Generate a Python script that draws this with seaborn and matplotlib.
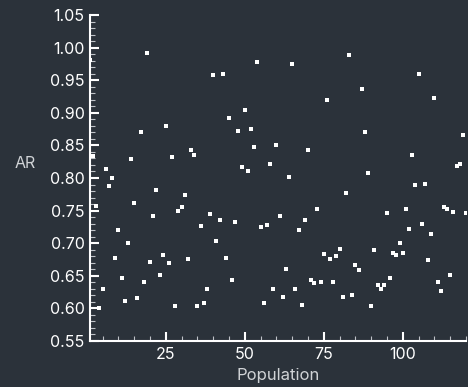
import matplotlib
matplotlib.use("Agg")
import matplotlib.pyplot as plt
import seaborn as sns
import pandas as pd
from matplotlib.ticker import MultipleLocator

population = list(range(1, 121))
ar = [
    0.981, 0.833, 0.757, 0.600, 0.629, 0.814, 0.787, 0.800, 0.678, 0.720,
    0.646, 0.612, 0.700, 0.829, 0.762, 0.616, 0.871, 0.640, 0.992, 0.671,
    0.742, 0.781, 0.651, 0.682, 0.879, 0.669, 0.832, 0.603, 0.749, 0.755,
    0.774, 0.676, 0.843, 0.835, 0.603, 0.726, 0.609, 0.630, 0.745, 0.958,
    0.703, 0.736, 0.959, 0.677, 0.892, 0.644, 0.733, 0.872, 0.817, 0.905,
    0.810, 0.875, 0.847, 0.978, 0.725, 0.609, 0.728, 0.821, 0.630, 0.850,
    0.741, 0.618, 0.660, 0.801, 0.975, 0.630, 0.721, 0.605, 0.735, 0.843,
    0.644, 0.639, 0.753, 0.640, 0.683, 0.919, 0.676, 0.641, 0.680, 0.691,
    0.617, 0.777, 0.989, 0.620, 0.667, 0.659, 0.937, 0.871, 0.808, 0.603,
    0.690, 0.636, 0.629, 0.636, 0.747, 0.647, 0.685, 0.682, 0.700, 0.685,
    0.753, 0.722, 0.836, 0.790, 0.959, 0.729, 0.791, 0.674, 0.714, 0.923,
    0.641, 0.626, 0.756, 0.753, 0.651, 0.748, 0.818, 0.821, 0.866, 0.746,
]

df = pd.DataFrame({"Population": population, "AR": ar})

bg = "#2b323a"
fg = "#ffffff"
sns.set_style("dark")
plt.rcParams["font.family"] = ["Inter", "DejaVu Sans"]

fig = plt.figure(figsize=(4.68, 3.87), dpi=100, facecolor=bg)
ax = fig.add_axes([0.1923, 0.1189, 0.8034, 0.8423])
ax.set_facecolor(bg)

sns.scatterplot(data=df, x="Population", y="AR", ax=ax, marker="s",
                s=10, color=fg, linewidth=0)

ax.set_xlim(1, 120)
ax.set_ylim(0.55, 1.05)
ax.xaxis.set_major_locator(MultipleLocator(25))
ax.xaxis.set_minor_locator(MultipleLocator(5))
ax.yaxis.set_major_locator(MultipleLocator(0.05))
ax.yaxis.set_minor_locator(MultipleLocator(0.01))
ax.yaxis.set_major_formatter(matplotlib.ticker.FormatStrFormatter("%.2f"))

for side in ["top", "right"]:
    ax.spines[side].set_visible(False)
for side in ["left", "bottom"]:
    ax.spines[side].set_color(fg)
    ax.spines[side].set_linewidth(1.5)

ax.tick_params(which="major", direction="in", length=6.5, width=1.5,
               colors=fg, labelsize=11.5, pad=4)
ax.tick_params(which="minor", direction="in", length=3.5, width=0.8,
               colors="#bfc3c8")
ax.tick_params(axis="y", which="both", left=True)
ax.tick_params(axis="x", which="both", bottom=True)

ax.set_xlabel("Population", color="#d0d3d6", fontsize=12, labelpad=5)
ax.set_ylabel("AR", color="#d0d3d6", fontsize=11.5, rotation=0,
              ha="center", va="center")
ax.yaxis.set_label_coords(-0.173, 0.546)
ax.grid(False)

fig.savefig("out.png", dpi=100, facecolor=bg)
